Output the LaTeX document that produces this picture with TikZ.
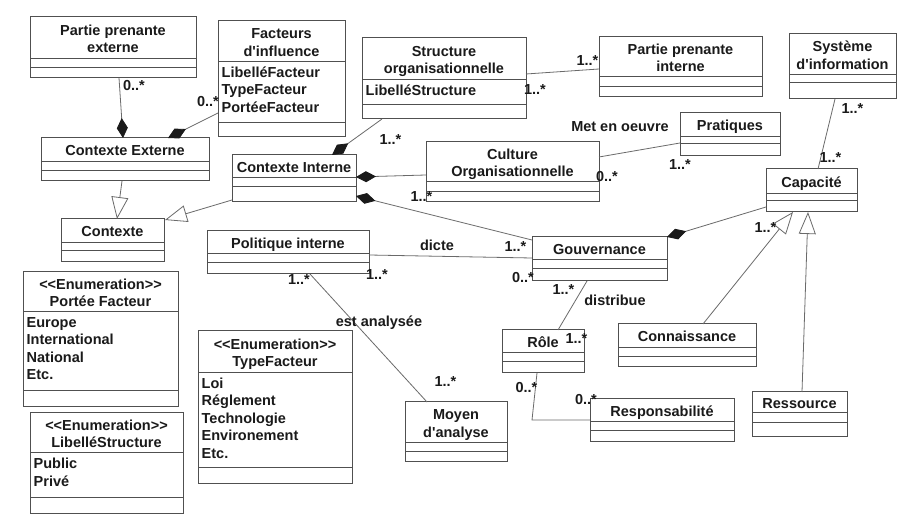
\documentclass[tikz,border=0pt]{standalone}
\usepackage{fontspec}
\newfontfamily\umlfont{Liberation Sans}
\usetikzlibrary{arrows.meta,calc}

\definecolor{boxline}{HTML}{505050}
\definecolor{linkline}{HTML}{6A6A6A}
\definecolor{inktext}{HTML}{1A1A1A}

\tikzset{
  classbox/.style={draw=boxline, line width=1pt, fill=white, inner sep=0pt, outer sep=0pt, anchor=north west},
  compline/.style={draw=boxline, line width=1pt},
  umltext/.style={font=\umlfont\bfseries\fontsize{14.5}{17.4}\selectfont, text=inktext, inner sep=0pt},
  titletext/.style={umltext, anchor=base},
  attrtext/.style={umltext, anchor=base west},
  multtext/.style={umltext, anchor=base},
  link/.style={draw=linkline, line width=0.8pt},
  compose/.style={link, -{Diamond[length=20pt, width=11pt, color=inktext]}},
  inherit/.style={link, -{Triangle[open, length=22pt, width=17pt, fill=white]}},
}

% class box: name, x1, y1, x2, y2, first divider, second divider, number of title lines, title lines
\newcommand\umlclass[9]{%
  \node[classbox, minimum width={(#4-#2)*1pt}, minimum height={(#5-#3)*1pt}] (#1) at (#2,#3) {};
  \draw[compline] (#2,#6) -- (#4,#6) (#2,#7) -- (#4,#7);
  \foreach \t [count=\i] in {#9}
    \node[titletext] (#1-t\i) at ({(#2+#4)/2}, {(#3+#6)/2 + 6 + 17.4*(\i-1-(#8-1)/2)}) {\t};
}
% attribute lines: name, x1, first divider, lines
\newcommand\umlattrs[4]{%
  \foreach \t [count=\i] in {#4}
    \node[attrtext] (#1-a\i) at ({#2+3.5}, {#3+15.5+17.5*(\i-1)}) {\t};
}

\begin{document}
\begin{tikzpicture}[x=1pt, y=-1pt]
\fill[white] (0,0) rectangle (898,521);
\useasboundingbox (0,0) rectangle (898,521);

% classes
\umlclass{pext}{30}{17}{196}{78}{59}{68}{2}{Partie prenante, externe}
\umlclass{facteurs}{218}{21}{345}{137}{62}{123}{2}{Facteurs, d'influence}
\umlattrs{facteurs}{218}{62}{LibelléFacteur, TypeFacteur, PortéeFacteur}
\umlclass{cext}{41}{138}{209}{181}{162}{171}{1}{Contexte Externe}
\umlclass{cint}{232}{155}{356}{202}{178}{187}{1}{Contexte Interne}
\umlclass{contexte}{61}{219}{164}{262}{243}{251}{1}{Contexte}
\umlclass{struct}{362}{38}{526}{119}{80}{105}{2}{Structure, organisationnelle}
\umlattrs{struct}{362}{80}{LibelléStructure}
\umlclass{ppint}{599}{37}{762}{97}{77}{87}{2}{Partie prenante, interne}
\umlclass{sysinfo}{789}{34}{896}{99}{75}{83}{2}{Système, d'information}
\umlclass{pratiques}{680}{113}{780}{156}{137}{144}{1}{Pratiques}
\umlclass{culture}{426}{142}{599}{202}{182}{192}{2}{Culture, Organisationnelle}
\umlclass{capacite}{766}{169}{857}{212}{194}{201}{1}{Capacité}
\umlclass{politique}{207}{231}{369}{274}{254}{263}{1}{Politique interne}
\umlclass{gouv}{532}{237}{667}{281}{260}{269}{1}{Gouvernance}
\umlclass{role}{502}{330}{584}{373}{353}{362}{1}{Rôle}
\umlclass{connaissance}{618}{324}{756}{367}{348}{357}{1}{Connaissance}
\umlclass{responsabilite}{590}{399}{734}{442}{422}{431}{1}{Responsabilité}
\umlclass{ressource}{752}{392}{847}{437}{413}{423}{1}{Ressource}
\umlclass{moyen}{405}{402}{507}{462}{443}{452}{2}{Moyen, d'analyse}

% enumerations
\umlclass{enumportee}{23}{272}{178}{407}{312}{391}{2}{<<Enumeration>>, Portée Facteur}
\umlattrs{enumportee}{23}{312}{Europe, International, National, Etc.}
\umlclass{enumtype}{198}{331}{352}{484}{373}{468}{2}{<<Enumeration>>, TypeFacteur}
\umlattrs{enumtype}{198}{373}{Loi, Réglement, Technologie, Environement, Etc.}
\umlclass{enumlib}{30}{413}{183}{514}{453}{498}{2}{<<Enumeration>>, LibelléStructure}
\umlattrs{enumlib}{30}{453}{Public, Privé}

% compositions
\draw[compose] ($(pext.south west)+(89,0)$) -- ($(cext.north west)+(82,0)$);
\draw[compose] ($(facteurs.north west)+(0,92)$) -- ($(cext.north west)+(127,0)$);
\draw[compose] ($(struct.south west)+(20,0)$) -- ($(cint.north west)+(100,0)$);
\draw[compose] ($(culture.north west)+(0,33)$) -- ($(cint.north east)+(0,22)$);
\draw[compose] ($(gouv.north west)+(0,3)$) -- ($(cint.north east)+(0,41)$);
\draw[compose] ($(capacite.north west)+(0,38)$) -- (gouv.north east);

% associations
\draw[link] ($(struct.north east)+(0,36)$) -- ($(ppint.north west)+(0,32)$);
\draw[link] ($(culture.north east)+(0,15)$) -- ($(pratiques.north west)+(0,30)$);
\draw[link] ($(politique.north east)+(0,24)$) -- ($(gouv.north west)+(0,21)$);
\draw[link] ($(politique.south west)+(103,0)$) -- ($(moyen.north west)+(22,0)$);
\draw[link] ($(sysinfo.south west)+(46,0)$) -- ($(capacite.north west)+(52,0)$);
\draw[link] ($(gouv.south west)+(55,0)$) -- ($(role.north west)+(56,0)$);
\coordinate (rolebend) at ($(responsabilite.north west)+(-58,21)$);
\draw[link] ($(role.south west)+(35,0)$) -- (rolebend) -- ($(responsabilite.north west)+(0,21)$);

% generalisations
\draw[inherit] ($(connaissance.north west)+(85,0)$) -- ($(capacite.south west)+(27,0)$);
\draw[inherit] ($(ressource.north west)+(50,0)$) -- ($(capacite.south west)+(42,0)$);
\draw[inherit] ($(cext.south west)+(81,0)$) -- ($(contexte.north west)+(56,0)$);
\draw[inherit] ($(cint.south west)+(0,-2)$) -- ($(contexte.north east)+(1,1)$);

% multiplicities and association names
\node[multtext] (m-pext) at (134,90.5) {0..*};
\node[multtext] (m-fact) at (208,106.5) {0..*};
\node[multtext] (m-struct-cint) at (390.5,145) {1..*};
\node[multtext] (m-ppint) at (587.5,65.3) {1..*};
\node[multtext] (m-struct) at (535,95) {1..*};
\node[multtext] (m-culture) at (421.5,201.5) {1..*};
\node[multtext] (m-gouv-cint) at (515.5,251.5) {1..*};
\node[multtext] (m-pol-dicte) at (377,280) {1..*};
\node[multtext] (l-dicte) at (437,250.5) {dicte};
\node[multtext] (m-gouv-dicte) at (523,283) {0..*};
\node[multtext] (l-oeuvre) at (620,132) {Met en oeuvre};
\node[multtext] (m-culture-prat) at (607,181.5) {0..*};
\node[multtext] (m-prat) at (680,170) {1..*};
\node[multtext] (m-sysinfo) at (852.5,113.3) {1..*};
\node[multtext] (m-capa-top) at (830.5,162.5) {1..*};
\node[multtext] (m-connaissance) at (765.5,232.5) {1..*};
\node[multtext] (m-gouv-role) at (563.5,295) {1..*};
\node[multtext] (l-distribue) at (615,306) {distribue};
\node[multtext] (m-role) at (576.5,343.3) {1..*};
\node[multtext] (m-role-resp) at (526.5,392.5) {0..*};
\node[multtext] (m-resp) at (586,405) {0..*};
\node[multtext] (m-pol-moyen) at (299,285) {1..*};
\node[multtext] (l-analyse) at (379,327) {est analysée};
\node[multtext] (m-moyen) at (445.5,386.5) {1..*};
\end{tikzpicture}
\end{document}
